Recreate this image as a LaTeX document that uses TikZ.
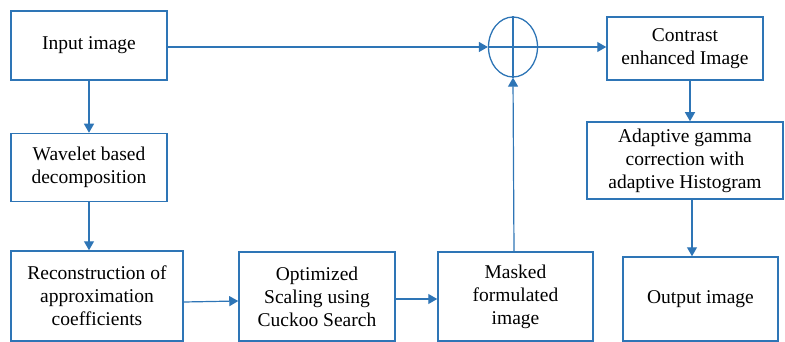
\documentclass[tikz,border=0pt]{standalone}
\usepackage{fontspec}
\setmainfont{Liberation Serif}
\newfontfamily\boxfont{Liberation Serif}
\usetikzlibrary{positioning, arrows.meta, shapes.geometric}
\definecolor{lineblue}{RGB}{46,117,182}

\begin{document}
\begin{tikzpicture}[
        x=1pt, y=-1pt,
        font=\boxfont\fontsize{19.5}{23}\selectfont,
        box/.style={draw=lineblue, line width=1.5pt, rectangle, align=center, inner sep=2pt},
        sum/.style={draw=lineblue, line width=1.3pt, ellipse, minimum width=49pt, minimum height=60pt, inner sep=0pt},
        arrow/.style={draw=lineblue, line width=1.2pt, -{Triangle[length=9pt, width=10pt]}}
    ]
    \useasboundingbox (0,0) rectangle (785,342);

    \node[box, minimum width=156pt, minimum height=69pt] (Input) at (89,45.5) {Input image};
    \node[box, minimum width=156pt, minimum height=68pt, below=52pt of Input] (Wavelet) {Wavelet based\\decomposition};
    \node[box, minimum width=172pt, minimum height=90pt] (Recon) at (97,296) {Reconstruction of\\approximation\\coefficients};
    \node[box, minimum width=156pt, minimum height=89pt] (Optimized) at (317,296.5) {Optimized\\Scaling using\\Cuckoo Search};
    \node[box, minimum width=155pt, minimum height=89pt] (Masked) at (515.5,296.5) {Masked\\formulated\\image};

    \node[sum] (Sum) at (513,47) {};
    \draw[draw=lineblue, line width=1.2pt] (Sum.north) -- (Sum.south);
    \draw[draw=lineblue, line width=1.2pt] (Sum.west) -- (Sum.east);

    \node[box, minimum width=156pt, minimum height=63pt] (Contrast) at (685,48.5) {Contrast\\enhanced Image};
    \node[box, minimum width=196pt, minimum height=77pt] (Adaptive) at (685,160.5) {Adaptive gamma\\correction with\\adaptive Histogram};
    \node[box, minimum width=155pt, minimum height=84pt] (Output) at (700.5,299) {Output image};

    \draw[arrow] (Input) -- (Wavelet);
    \draw[arrow] (Wavelet.south) -- (Wavelet.south |- Recon.north);
    \draw[arrow] ([yshift=-6pt]Recon.east) -- ([yshift=-4.5pt]Optimized.west);
    \draw[arrow] ([yshift=-2.5pt]Optimized.east) -- ([yshift=-2.5pt]Masked.west);
    \draw[arrow] ([xshift=-1.5pt]Masked.north) -- (Sum.south);
    \draw[arrow] (Input.east |- Sum) -- (Sum.west);
    \draw[arrow] (Sum.east) -- (Sum.east -| Contrast.west);
    \draw[arrow] ([xshift=5pt]Contrast.south) -- ([xshift=5pt]Adaptive.north);
    \draw[arrow] ([xshift=7pt]Adaptive.south) -- ([xshift=7pt]Adaptive.south |- Output.north);

\end{tikzpicture}
\end{document}
